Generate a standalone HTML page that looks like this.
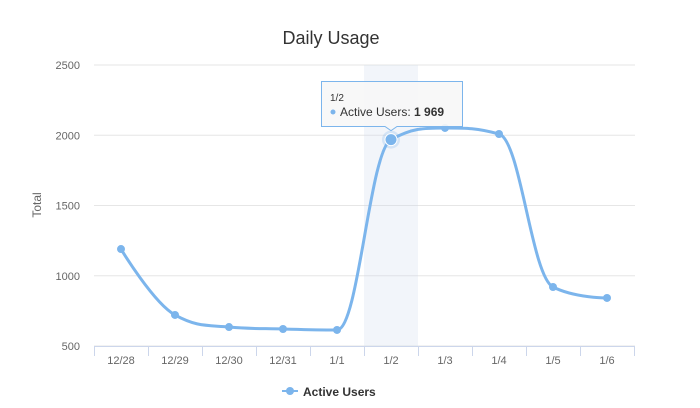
<!DOCTYPE html>
<html><head><meta charset="utf-8"><style>
body{margin:0;background:#fff;font-family:"Liberation Sans",sans-serif}
svg{display:block}
</style></head><body>
<svg id="chart" width="700" height="408" xmlns="http://www.w3.org/2000/svg">
<rect width="700" height="408" fill="#fff"/>
<text x="331" y="44" text-anchor="middle" font-size="18" fill="#333">Daily Usage</text>
<text transform="translate(41,205) rotate(-90)" text-anchor="middle" font-size="12" fill="#666">Total</text>
<g id="grid"></g><g id="band"></g><g id="xaxis"></g><g id="series"></g><g id="tip"></g>
<g>
<line x1="282" y1="391" x2="298" y2="391" stroke="#7cb5ec" stroke-width="2"/>
<circle cx="290" cy="391" r="4" fill="#7cb5ec"/>
<text x="303" y="396" font-size="12" font-weight="bold" fill="#333">Active Users</text>
</g>
</svg>
<script>
const categories=["12/28","12/29","12/30","12/31","1/1","1/2","1/3","1/4","1/5","1/6"];
const activeUsers=[1190,721,635,621,614,1969,2052,2009,920,842];
const yTicks=[500,1000,1500,2000,2500];
const highlightIndex=5;
const NS="http://www.w3.org/2000/svg";
const L=94,R=634,T=65,B=346,yMin=500,yMax=2500;
const cw=(R-L)/categories.length;
const xS=i=>L+cw*(i+0.5);
const yS=v=>B-(v-yMin)/(yMax-yMin)*(B-T);
function mk(tag,attrs,parent,text){const e=document.createElementNS(NS,tag);for(const k in attrs)e.setAttribute(k,attrs[k]);if(text!=null)e.textContent=text;document.getElementById(parent).appendChild(e);return e;}
yTicks.forEach(t=>{
 const g=mk("line",{x1:L,x2:R+1,y1:yS(t),y2:yS(t),stroke:"#e6e6e6","stroke-width":1},"grid");
 
 
 const tx=mk("text",{x:80,y:yS(t)+4,"text-anchor":"end","font-size":11,fill:"#666"},"grid",t);
 
 
});
const band=mk("rect",{x:L+cw*highlightIndex,y:T,width:cw,height:B-T,fill:"#ccd6eb","fill-opacity":0.25},"band");


const ax=mk("line",{x1:L,x2:R+1,y1:B+0.5,y2:B+0.5,stroke:"#ccd6eb"},"xaxis");


for(let i=0;i<=categories.length;i++){
 const x=Math.round(L+cw*i)+0.5;
 const tk=mk("line",{x1:x,x2:x,y1:B,y2:B+10,stroke:"#ccd6eb"},"xaxis");
 
 
}
categories.forEach((c,i)=>{
 const t=mk("text",{x:xS(i),y:B+18,"text-anchor":"middle","font-size":11,fill:"#666"},"xaxis",c);
 
 
});
const pts=activeUsers.map((v,i)=>({x:xS(i),y:yS(v)}));
function conts(i){
 const p=pts[i],a=pts[i-1],n=pts[i+1];
 if(!a||!n)return {lx:p.x,ly:p.y,rx:p.x,ry:p.y};
 const s=1.5,d=2.5;
 let lx=(s*p.x+a.x)/d,ly=(s*p.y+a.y)/d,rx=(s*p.x+n.x)/d,ry=(s*p.y+n.y)/d;
 const c=((ry-ly)*(rx-p.x))/(rx-lx)+p.y-ry;ly+=c;ry+=c;
 if(ly>a.y&&ly>p.y){ly=Math.max(a.y,p.y);ry=2*p.y-ly;}else if(ly<a.y&&ly<p.y){ly=Math.min(a.y,p.y);ry=2*p.y-ly;}
 if(ry>n.y&&ry>p.y){ry=Math.max(n.y,p.y);ly=2*p.y-ry;}else if(ry<n.y&&ry<p.y){ry=Math.min(n.y,p.y);ly=2*p.y-ry;}
 return {lx,ly,rx,ry};
}
const cs=pts.map((p,i)=>conts(i));
let d="M"+pts[0].x+" "+pts[0].y;
for(let i=1;i<pts.length;i++)d+=` C${cs[i-1].rx} ${cs[i-1].ry} ${cs[i].lx} ${cs[i].ly} ${pts[i].x} ${pts[i].y}`;
const line=mk("path",{d:d,fill:"none",stroke:"#7cb5ec","stroke-width":3,"stroke-linejoin":"round","stroke-linecap":"round"},"series");


pts.forEach((p,i)=>{
 if(i===highlightIndex){
  const h=mk("circle",{cx:p.x,cy:p.y,r:9,fill:"#7cb5ec","fill-opacity":0.25},"series");
  
  
 }
 const c=mk("circle",{cx:p.x,cy:p.y,r:i===highlightIndex?6:4,fill:"#7cb5ec",stroke:i===highlightIndex?"#fff":"none","stroke-width":1},"series");
 
 
});
const hp=pts[highlightIndex];
const tx=Math.round(hp.x)-70,ty=Math.round(hp.y)-59;
const tp=mk("path",{d:`M${tx+0.5} ${ty+0.5} H${tx+141.5} V${ty+45.5} H${hp.x+6} L${hp.x} ${hp.y-9} L${hp.x-6} ${ty+45.5} H${tx+0.5} Z`,fill:"rgba(247,247,247,0.9)",stroke:"#7cb5ec","stroke-width":1},"tip");


mk("text",{x:tx+9,y:ty+20,"font-size":10,fill:"#333"},"tip",categories[highlightIndex]);
mk("circle",{cx:tx+12,cy:ty+31,r:2.5,fill:"#7cb5ec"},"tip");
const t2=mk("text",{x:tx+19,y:ty+35,"font-size":12,fill:"#333"},"tip","Active Users: ");
const b=document.createElementNS(NS,"tspan");b.setAttribute("font-weight","bold");
b.textContent=activeUsers[highlightIndex].toString().replace(/\B(?=(\d{3})+(?!\d))/g," ");t2.appendChild(b);
</script>
</body></html>
